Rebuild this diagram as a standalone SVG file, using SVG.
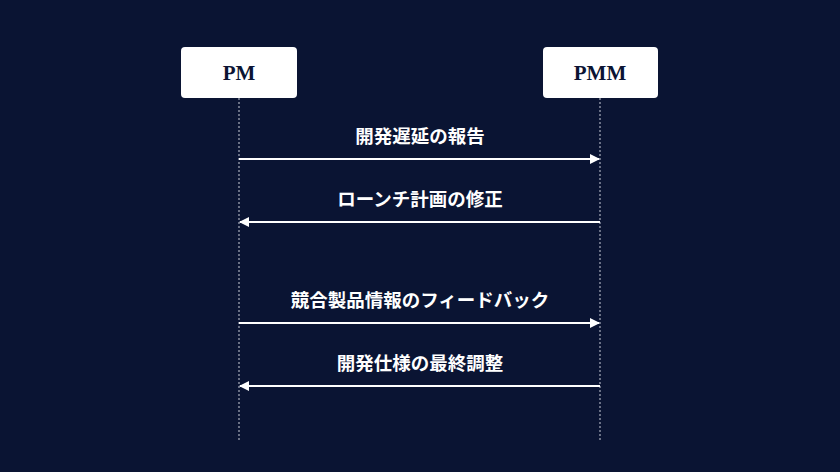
<svg xmlns="http://www.w3.org/2000/svg" width="840" height="472" viewBox="0 0 840 472">
<style>
.box{fill:#ffffff;}
.life{stroke:#c8ccd8;stroke-width:1;stroke-dasharray:2,2;fill:none;}
.name{font-family:"Liberation Serif","Noto Sans CJK JP",serif;font-size:21px;font-weight:bold;fill:#0b1433;text-anchor:middle;}
.msg{stroke:#ffffff;stroke-width:2;fill:none;}
.lbl{font-family:"Liberation Serif","Noto Sans CJK JP",serif;font-size:18.5px;font-weight:bold;fill:#ffffff;text-anchor:middle;}
</style>
<defs>
<marker id="ah" viewBox="0 0 10 10" refX="9" refY="5" markerWidth="5" markerHeight="5" orient="auto-start-reverse" markerUnits="strokeWidth">
<path d="M0,0 L10,5 L0,10 z" fill="#ffffff"/>
</marker>
</defs>
<rect width="840" height="472" fill="#0a1433"/>
<g id="lifelines">
<line class="life" x1="239" y1="98" x2="239" y2="442"/>
<line class="life" x1="600" y1="98" x2="600" y2="442"/>
</g>
<g id="PM">
<rect class="box" x="181" y="47" width="116" height="51" rx="4"/>
<text class="name" x="239" y="80">PM</text>
</g>
<g id="PMM">
<rect class="box" x="543" y="47" width="115" height="51" rx="4"/>
<text class="name" x="600" y="80">PMM</text>
</g>
<g id="connectors">
<line class="msg" x1="239" y1="159" x2="599" y2="159" marker-end="url(#ah)"/>
<text class="lbl" x="420" y="143">開発遅延の報告</text>
<line class="msg" x1="600" y1="222" x2="240" y2="222" marker-end="url(#ah)"/>
<text class="lbl" x="420" y="206">ローンチ計画の修正</text>
<line class="msg" x1="239" y1="323" x2="599" y2="323" marker-end="url(#ah)"/>
<text class="lbl" x="420" y="307">競合製品情報のフィードバック</text>
<line class="msg" x1="600" y1="386" x2="240" y2="386" marker-end="url(#ah)"/>
<text class="lbl" x="420" y="370">開発仕様の最終調整</text>
</g>
</svg>
